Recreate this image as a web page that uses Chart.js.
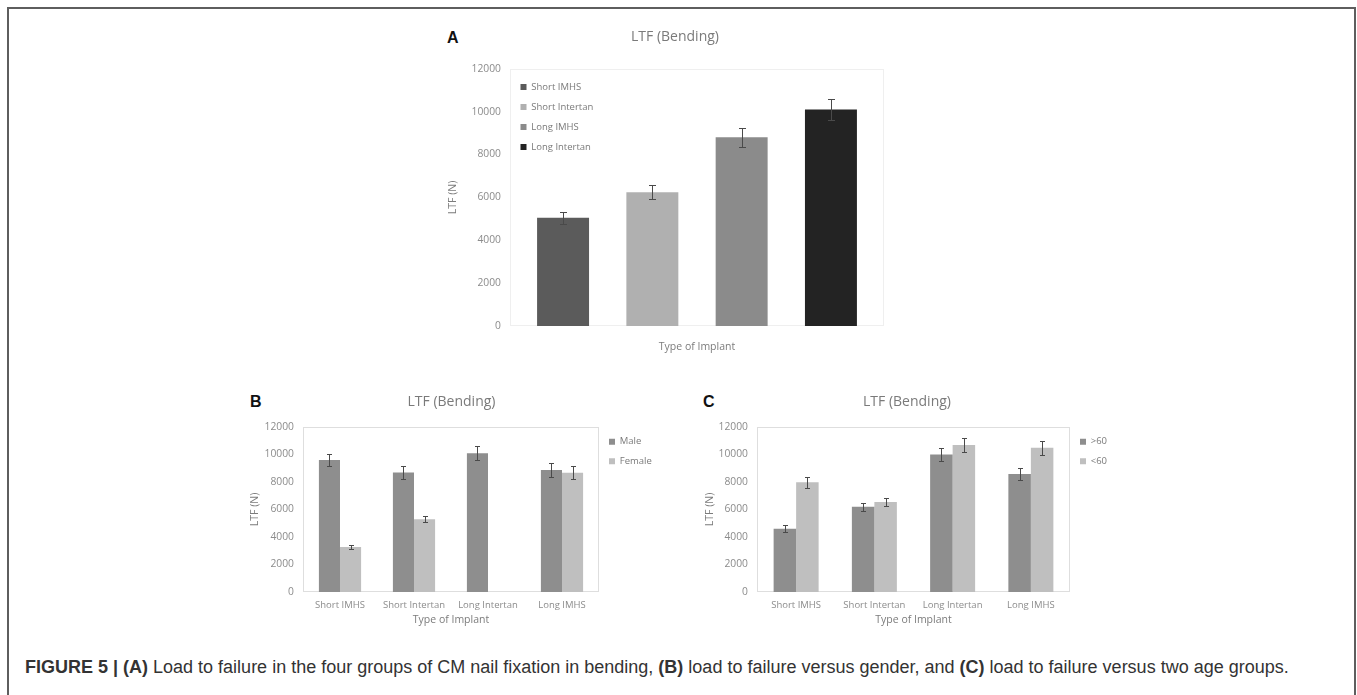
<!DOCTYPE html>
<html>
<head>
<meta charset="utf-8">
<script src="https://cdn.jsdelivr.net/npm/chart.js@4"></script>
<style>
body{margin:0;background:#fff;width:1357px;height:695px;overflow:hidden;position:relative}
.frame{position:absolute;left:7px;top:7px;width:1349px;height:720px;border:2px solid #5e5e5e;border-bottom:none;box-sizing:border-box}
canvas{position:absolute}
.tag{position:absolute;font:bold 16px "Liberation Sans",Arial,sans-serif;color:#111}
.cap{position:absolute;left:25px;top:657px;font:18px "Liberation Sans",Arial,sans-serif;color:#333;white-space:nowrap}
</style>
</head>
<body>
<div class="frame"></div>
<div class="tag" style="left:447px;top:29px">A</div>
<div class="tag" style="left:250px;top:393px">B</div>
<div class="tag" style="left:703px;top:393px">C</div>
<canvas id="cA" width="470" height="350" style="left:440px;top:20px"></canvas>
<canvas id="cB" width="422" height="245" style="left:244px;top:385px"></canvas>
<canvas id="cC" width="406" height="245" style="left:704px;top:385px"></canvas>
<div class="cap"><b>FIGURE 5 | (A)</b> Load to failure in the four groups of CM nail fixation in bending, <b>(B)</b> load to failure versus gender, and <b>(C)</b> load to failure versus two age groups.</div>
<script>
// panel A: one bar per implant type
const seriesA=['Short IMHS','Short Intertan','Long IMHS','Long Intertan'];
const valuesA=[5050,6240,8810,10100];
const errorsA=[280,330,450,510];
const coloursA=['#5b5b5b','#b0b0b0','#8b8b8b','#232323'];

// panels B and C share the categories
const groups=['Short IMHS','Short Intertan','Long Intertan','Long IMHS'];
const male=[9600,8700,10100,8870];
const maleErr=[450,450,530,530];
const female=[3270,5300,null,8680];
const femaleErr=[150,220,null,460];
const over60=[4600,6200,10000,8580];
const over60Err=[270,300,500,440];
const under60=[7980,6550,10700,10500];
const under60Err=[410,290,520,500];

const dark='#8e8e8e',light='#bfbfbf';

Chart.defaults.font.family='"Open Sans", sans-serif';
Chart.defaults.color='#8a8a8a';

const plotBorder={id:'plotBorder',beforeDatasetsDraw(chart,args,opts){
  const {ctx,chartArea:a}=chart;
  ctx.save();
  ctx.strokeStyle=opts.color||'#e2e2e2';
  ctx.lineWidth=1;
  ctx.strokeRect(Math.round(a.left)+0.5,Math.round(a.top)+0.5,Math.round(a.right-a.left)-1,Math.round(a.bottom-a.top)-1);
  ctx.restore();
}};

const errorBars={id:'errorBars',afterDatasetsDraw(chart,args,opts){
  const {ctx,scales:{y}}=chart;
  const w=opts.cap||3;
  ctx.save();
  ctx.strokeStyle='#4a4a4a';
  ctx.lineWidth=1;
  chart.data.datasets.forEach((ds,i)=>{
    chart.getDatasetMeta(i).data.forEach((bar,j)=>{
      let v=ds.data[j],e=ds.err[j];
      if(v==null||!e)return;
      let x=Math.round(bar.x)+0.5;
      let t=Math.round(y.getPixelForValue(v+e))+0.5,b=Math.round(y.getPixelForValue(v-e))+0.5;
      ctx.beginPath();
      ctx.moveTo(x,t);ctx.lineTo(x,b);
      ctx.moveTo(x-w,t);ctx.lineTo(x+w,t);
      ctx.moveTo(x-w,b);ctx.lineTo(x+w,b);
      ctx.stroke();
    });
  });
  ctx.restore();
}};

function yAxis(width,titlePad){
  return {min:0,max:12000,
    ticks:{stepSize:2000,color:'#8c8c8c',font:{size:10.3},padding:9,callback:v=>String(v)},
    grid:{display:false,drawTicks:false},border:{display:false},
    title:{display:true,text:'LTF (N)',color:'#7c7c7c',font:{size:10.5},padding:{top:titlePad,bottom:0}},
    afterFit(s){s.width=width;}};
}
function xAxis(height,showTicks,titlePad){
  return {
    ticks:{display:showTicks,color:'#8c8c8c',font:{size:9.5},padding:8,maxRotation:0},
    grid:{display:false,drawTicks:false},border:{display:false},
    title:{display:true,text:'Type of Implant',color:'#7c7c7c',font:{size:10.5},padding:{top:0,bottom:titlePad}},
    afterFit(s){s.height=height;}};
}
function titleOpts(pt,pb){
  return {display:true,text:'LTF (Bending)',color:'#7a7a7a',font:{size:14,weight:'normal'},padding:{top:pt,bottom:pb}};
}

new Chart(document.getElementById('cA'),{
  type:'bar',
  data:{labels:[''],datasets:seriesA.map((s,i)=>({label:s,data:[valuesA[i]],err:[errorsA[i]],backgroundColor:coloursA[i]}))},
  options:{responsive:false,animation:false,
    layout:{padding:{left:26,right:26}},
    datasets:{bar:{categoryPercentage:0.955,barPercentage:0.582}},
    scales:{x:xAxis(44,false,17),y:yAxis(44,-19.3)},
    plugins:{title:titleOpts(9,23),
      // legend sits inside the plot; empty legend title pushes it down from the canvas top
      legend:{position:'chartArea',align:'start',
        title:{display:true,text:'',font:{size:10},padding:{top:39.75,bottom:0}},
        labels:{boxWidth:6,boxHeight:6,font:{size:9.5},color:'#7a7a7a',padding:10.5}},
      tooltip:{enabled:false},plotBorder:{color:'#efefef'},errorBars:{cap:3.5}}},
  plugins:[plotBorder,errorBars]
});

new Chart(document.getElementById('cB'),{
  type:'bar',
  data:{labels:groups,datasets:[
    {label:'Male',data:male,err:maleErr,backgroundColor:dark},
    {label:'Female',data:female,err:femaleErr,backgroundColor:light}]},
  options:{responsive:false,animation:false,
    layout:{padding:{right:7}},
    datasets:{bar:{categoryPercentage:0.57,barPercentage:1}},
    scales:{x:xAxis(38,true,3.7),y:yAxis(59,5)},
    plugins:{title:titleOpts(8.6,16.6),
      legend:{position:'right',align:'start',fullSize:false,maxWidth:60,labels:{boxWidth:6,boxHeight:6,font:{size:9.5},color:'#7a7a7a',padding:10}},
      tooltip:{enabled:false},plotBorder:{color:'#dedede'},errorBars:{cap:2.5}}},
  plugins:[plotBorder,errorBars]
});

new Chart(document.getElementById('cC'),{
  type:'bar',
  data:{labels:groups,datasets:[
    {label:'>60',data:over60,err:over60Err,backgroundColor:dark},
    {label:'<60',data:under60,err:under60Err,backgroundColor:light}]},
  options:{responsive:false,animation:false,
    layout:{padding:{right:0}},
    datasets:{bar:{categoryPercentage:0.575,barPercentage:1}},
    scales:{x:xAxis(38,true,3.7),y:yAxis(53,0)},
    plugins:{title:titleOpts(8.6,16.6),
      legend:{position:'right',align:'start',fullSize:false,maxWidth:40,labels:{boxWidth:6,boxHeight:6,font:{size:9.5},color:'#7a7a7a',padding:10}},
      tooltip:{enabled:false},plotBorder:{color:'#dedede'},errorBars:{cap:2.5}}},
  plugins:[plotBorder,errorBars]
});
</script>
</body>
</html>
